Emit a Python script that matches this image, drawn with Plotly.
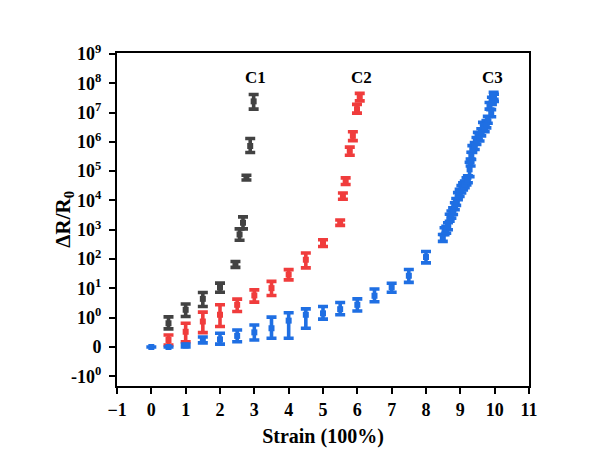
import numpy as np
import plotly.graph_objects as go

# ---------------- data (ΔR/R0 values) ----------------
c1_strain = [0.5, 1.0, 1.5, 2.0, 2.45, 2.57, 2.67, 2.77, 2.88, 2.98]
c1_value = [0.81, 1.86, 4.4, 10.7, 68, 690, 1740, 6.0e4, 7.2e5, 2.4e7]
c1_low = [0.62, 1.1, 2.4, 7.4, 52, 440, 1070, 5.0e4, 4.3e5, 1.3e7]
c1_high = [1.07, 2.95, 7.2, 15.1, 83, 1070, 2750, 7.2e4, 1.3e6, 4.1e7]

c2_strain = [0.5, 1.0, 1.5, 2.0, 2.5, 3.0, 3.5, 4.0, 4.5, 5.0, 5.5,
             5.58, 5.66, 5.78, 5.87, 5.99, 6.07]
c2_value = [0.24, 0.52, 0.87, 1.26, 2.75, 5.75, 10.2, 29.5, 95, 355, 1740,
            1.4e4, 4.6e4, 4.9e5, 1.6e6, 1.3e7, 3.3e7]
c2_low = [0.07, 0.18, 0.49, 0.70, 1.62, 3.4, 5.75, 19.5, 50, 270, 1410,
          1.1e4, 3.5e4, 3.5e5, 1.1e6, 9.5e6, 2.5e7]
c2_high = [0.41, 0.81, 1.55, 2.75, 4.3, 8.9, 17.4, 43.6, 162, 457, 2140,
           1.8e4, 5.9e4, 6.6e5, 2.2e6, 1.9e7, 4.5e7]

c3_strain = [0.0, 0.5, 1.0, 1.5, 2.0, 2.5, 3.0, 3.5, 4.0, 4.5, 5.0, 5.5, 6.0,
             6.5, 7.0, 7.5, 8.0,
             8.49, 8.54, 8.59, 8.64, 8.69, 8.74, 8.79, 8.84, 8.88, 8.93, 8.98,
             9.03, 9.08, 9.13, 9.18, 9.22, 9.27, 9.30, 9.32, 9.35, 9.42, 9.47,
             9.51, 9.56, 9.61, 9.66, 9.71, 9.76, 9.80, 9.85, 9.90, 9.92, 9.97,
             9.98]
c3_value = [0.0, 0.0, 0.05, 0.24, 0.26, 0.38, 0.50, 0.64, 0.90, 1.26, 1.41,
            1.95, 2.75, 5.6, 11, 27, 117,
            525, 890, 1000, 1320, 2570, 3300, 4300, 6300, 8900, 1.4e4, 1.8e4,
            2.4e4, 3.0e4, 3.5e4, 4.5e4, 5.2e4, 1.15e5, 1.95e5, 3.3e5, 5.6e5,
            7.2e5, 1.07e6, 1.6e6, 1.4e6, 2.1e6, 3.5e6, 2.9e6, 4.0e6, 5.6e6,
            1.7e7, 9.5e6, 2.5e7, 3.7e7, 3.2e7]
c3_low = [0.0, 0.0, 0.0, 0.14, 0.10, 0.18, 0.24, 0.30, 0.30, 0.64, 0.95,
          1.26, 1.7, 3.5, 7.4, 16, 74,
          400, 680, 760, 1000, 1950, 2500, 3300, 4800, 6800, 1.07e4, 1.37e4,
          1.8e4, 2.3e4, 2.7e4, 3.4e4, 4.0e4, 6.5e4, 1.5e5, 2.5e5, 4.3e5,
          5.5e5, 8.2e5, 1.2e6, 1.07e6, 1.6e6, 2.7e6, 2.2e6, 3.0e6, 4.3e6,
          1.3e7, 7.2e6, 1.9e7, 2.8e7, 2.4e7]
c3_high = [0.0, 0.0, 0.10, 0.34, 0.47, 0.58, 0.75, 1.05, 1.48, 2.0, 2.4,
           3.3, 4.4, 9.5, 15, 44, 182,
           690, 1170, 1320, 1740, 3400, 4350, 5600, 8300, 1.17e4, 1.85e4,
           2.4e4, 3.2e4, 4.0e4, 4.6e4, 5.9e4, 6.9e4, 2.0e5, 2.6e5, 4.4e5,
           7.4e5, 9.5e5, 1.4e6, 2.1e6, 1.85e6, 2.8e6, 4.6e6, 3.8e6, 5.3e6,
           7.4e6, 2.2e7, 1.25e7, 3.3e7, 4.9e7, 4.2e7]

y_tick_values = [-1, 0, 1, 1e1, 1e2, 1e3, 1e4, 1e5, 1e6, 1e7, 1e8, 1e9]
y_tick_labels = ["-10<sup>0</sup>", "0"] + [f"10<sup>{k}</sup>" for k in range(0, 10)]
x_tick_values = list(range(-1, 12))
x_tick_labels = ["\u22121"] + [str(v) for v in range(0, 12)]

series_names = ["C1", "C2", "C3"]
series_colors = ["#424242", "#F03C3C", "#1F6FE3"]


# ---------------- symmetric-log scale (linear in [-1, 1], log outside) ----------------
def symlog(v):
    v = np.asarray(v, dtype=float)
    a = np.abs(v)
    out = np.where(a >= 1, np.sign(v) * (np.log10(np.maximum(a, 1e-300)) + 1), v)
    return out


FONT = "Liberation Serif, Times New Roman, serif"

fig = go.Figure()
for name, color, xs, val, lo, hi in [
    ("C1", series_colors[0], c1_strain, c1_value, c1_low, c1_high),
    ("C2", series_colors[1], c2_strain, c2_value, c2_low, c2_high),
    ("C3", series_colors[2], c3_strain, c3_value, c3_low, c3_high),
]:
    yv = symlog(val)
    fig.add_trace(go.Scatter(
        x=xs, y=yv, mode="markers", name=name, showlegend=False,
        marker=dict(symbol="square", size=6, color=color),
        error_y=dict(type="data", symmetric=False,
                     array=symlog(hi) - yv, arrayminus=yv - symlog(lo),
                     color=color, thickness=3.6, width=5),
        cliponaxis=False,
    ))

label_pos = {"C1": (3.04, 9.21), "C2": (6.13, 9.21), "C3": (9.94, 9.21)}
for name in series_names:
    lx, ly = label_pos[name]
    fig.add_annotation(x=lx, y=ly, text=f"<b>{name}</b>", showarrow=False,
                       font=dict(family=FONT, size=17, color="black"))

fig.add_annotation(xref="paper", yref="paper", x=-0.167, y=0.5,
                   text="<b>\u0394R/R<sub>0</sub></b>", textangle=-90, showarrow=False,
                   font=dict(family=FONT, size=21, color="black"))

axis_common = dict(showline=True, linecolor="black", linewidth=2, mirror=True,
                   ticks="outside", ticklen=6, tickwidth=2, tickcolor="black",
                   showgrid=False, zeroline=False,
                   tickfont=dict(family=FONT, size=18, color="black"))

fig.update_layout(
    width=602, height=459,
    # the page body adds an 8 px offset, so margins are shifted to compensate
    margin=dict(l=109, r=81, t=45, b=81),
    paper_bgcolor="white", plot_bgcolor="white",
    xaxis=dict(range=[-1, 11], tickmode="array", tickvals=x_tick_values,
               ticktext=[f"<b>{t}</b>" for t in x_tick_labels],
               title=dict(text="<b>Strain (100%)</b>", standoff=10,
                          font=dict(family=FONT, size=20, color="black")),
               **axis_common),
    yaxis=dict(range=[-1.33, 10.03], tickmode="array",
               tickvals=symlog(y_tick_values).tolist(),
               ticktext=[f"<b>{t}</b>" for t in y_tick_labels],
               ticklabelstandoff=4,
               **axis_common),
)

fig.write_html("out.html")
